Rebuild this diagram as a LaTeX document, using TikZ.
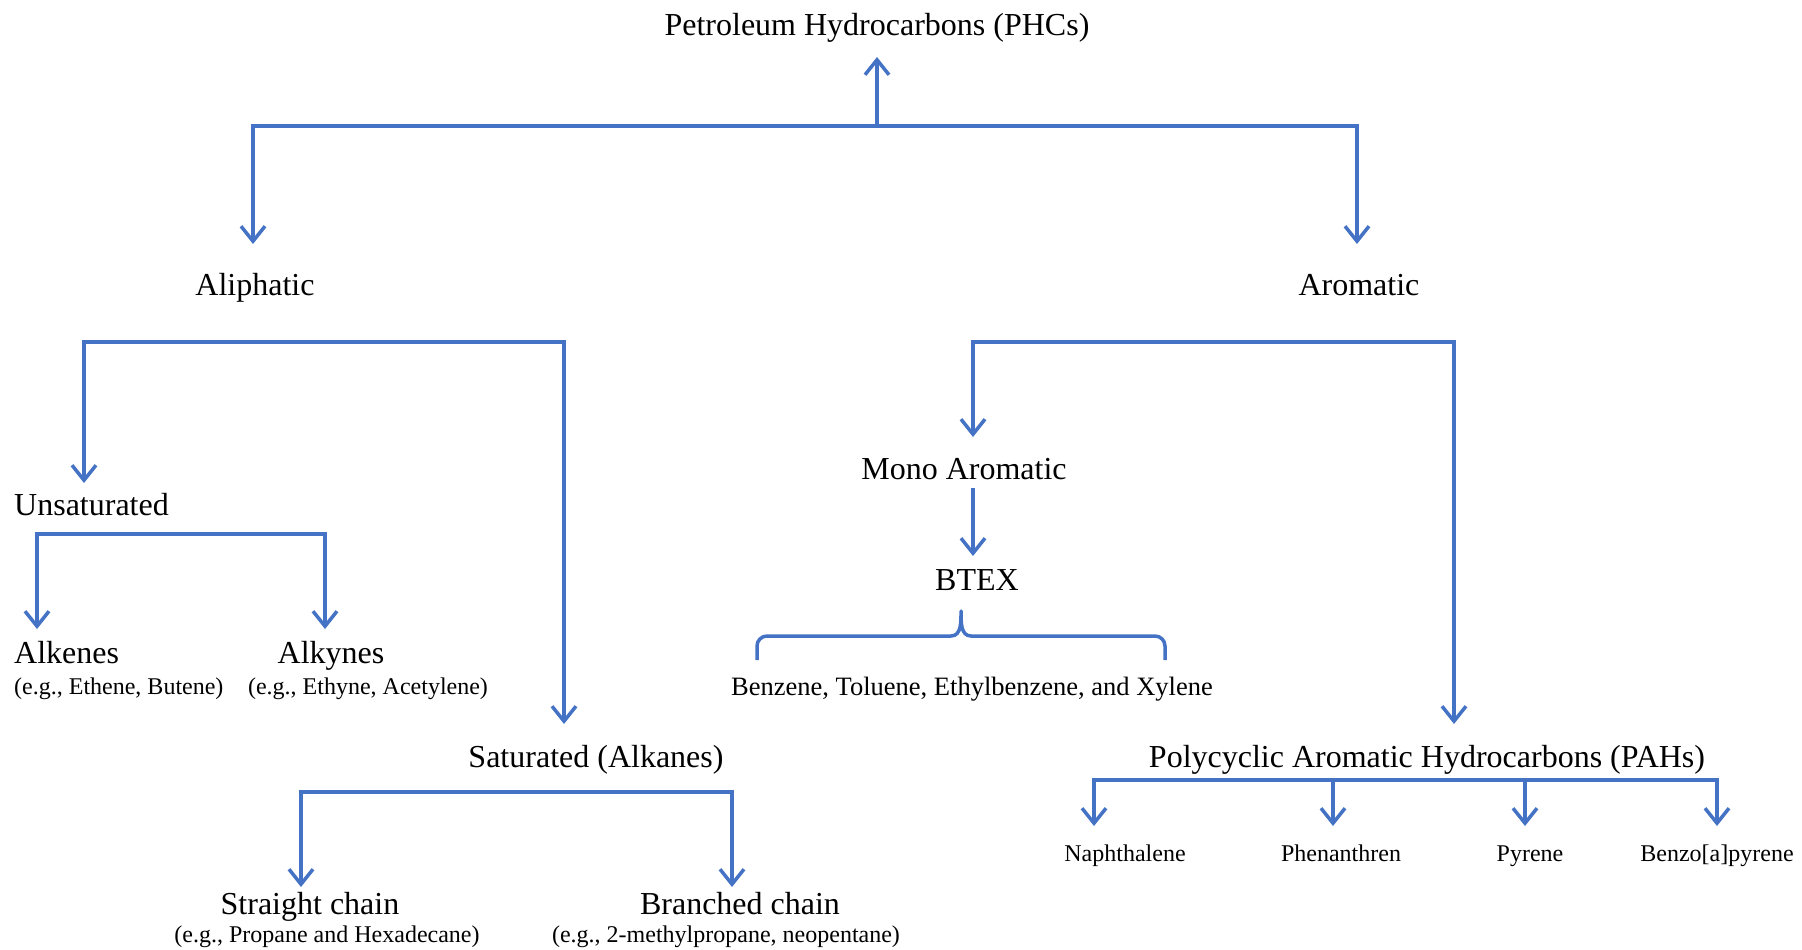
\documentclass[tikz,border=0pt]{standalone}
\usepackage{fontspec}
\setmainfont{Liberation Serif}
\usetikzlibrary{arrows.meta}
\definecolor{lineblue}{HTML}{4472C4}
\begin{document}
\begin{tikzpicture}[x=1pt,y=-1pt,
  lab/.style={font=\fontsize{32}{36}\selectfont, inner sep=0pt, anchor=base},
  mid/.style={font=\fontsize{26.5}{30}\selectfont, inner sep=0pt, anchor=base},
  sm/.style={font=\fontsize{24}{28}\selectfont, inner sep=0pt, anchor=base},
  conn/.style={draw=lineblue, line width=3.5pt},
  arr/.style={conn, -{Straight Barb[length=15pt,width=24pt]}}]
\useasboundingbox (0,0) rectangle (1802,950);

% texts
\node[lab] (phc) at (877,36) {Petroleum Hydrocarbons (PHCs)};
\node[lab] (aliph) at (255,295) {Aliphatic};
\node[lab] (arom) at (1359,295) {Aromatic};
\node[lab, anchor=base west] (unsat) at (14,515) {Unsaturated};
\node[lab, anchor=base west] (alkene) at (14,663) {Alkenes};
\node[sm, anchor=base west] (alkeneeg) at (14,694) {(e.g., Ethene, Butene)};
\node[lab] (alkyne) at (331,663) {Alkynes};
\node[sm] (alkyneeg) at (368,694) {(e.g., Ethyne, Acetylene)};
\node[lab] (sat) at (596,767) {Saturated (Alkanes)};
\node[lab] (straight) at (310,914) {Straight chain};
\node[sm] (straighteg) at (327,942) {(e.g., Propane and Hexadecane)};
\node[lab] (branch) at (740,914) {Branched chain};
\node[sm] (brancheg) at (726,942) {(e.g., 2-methylpropane, neopentane)};
\node[lab] (mono) at (964,479) {Mono Aromatic};
\node[lab] (btex) at (977,590) {BTEX};
\node[mid] (btexlist) at (972,695) {Benzene, Toluene, Ethylbenzene, and Xylene};
\node[lab] (pah) at (1427,767) {Polycyclic Aromatic Hydrocarbons (PAHs)};
\node[sm] (naph) at (1125,861) {Naphthalene};
\node[sm] (phen) at (1341,861) {Phenanthren};
\node[sm] (pyr) at (1530,861) {Pyrene};
\node[sm] (bap) at (1717,861) {Benzo[a]pyrene};

% junctions and arrow tips
\coordinate (j0) at (877,126);
\coordinate (phctip) at (877,57);
\coordinate (aliphtip) at (253,244);
\coordinate (aromtip) at (1357,244);
\coordinate (j1) at (324,342);
\coordinate (unsattip) at (84,483);
\coordinate (sattip) at (564,724);
\coordinate (j2) at (181,534);
\coordinate (alkenetip) at (37,629);
\coordinate (alkynetip) at (325,629);
\coordinate (j3) at (516,792);
\coordinate (straighttip) at (301,887);
\coordinate (branchtip) at (732,887);
\coordinate (j4) at (1213,342);
\coordinate (monotip) at (973,437);
\coordinate (pahtip) at (1454,724);
\coordinate (monobot) at (973,488);
\coordinate (btextip) at (973,556);
\coordinate (j5) at (1405,780);
\coordinate (naphtip) at (1094,826);
\coordinate (phentip) at (1333,826);
\coordinate (pyrtip) at (1525,826);
\coordinate (baptip) at (1717,826);

% connectors
\draw[arr] (j0) -- (phctip);
\draw[arr] (j0) -| (aliphtip);
\draw[arr] (j0) -| (aromtip);
\draw[arr] (j1) -| (unsattip);
\draw[arr] (j1) -| (sattip);
\draw[arr] (j2) -| (alkenetip);
\draw[arr] (j2) -| (alkynetip);
\draw[arr] (j3) -| (straighttip);
\draw[arr] (j3) -| (branchtip);
\draw[arr] (j4) -| (monotip);
\draw[arr] (j4) -| (pahtip);
\draw[arr] (monobot) -- (btextip);
\draw[arr] (j5) -| (naphtip);
\draw[arr] (j5) -| (baptip);
\draw[arr] (j5 -| phentip) -- (phentip);
\draw[arr] (j5 -| pyrtip) -- (pyrtip);

% brace
\coordinate (bpeak) at (961,611);
\coordinate (bl) at (757,660);
\coordinate (br) at (1165,660);
\draw[conn, line join=round] (bl) -- (757,646) to[out=-90+180,in=180] (767,636) -- (951,636)
  to[out=0,in=-90] (bpeak) to[out=-90,in=180] (971,636) -- (1155,636) to[out=0,in=90] (1165,646) -- (br);
\end{tikzpicture}
\end{document}
